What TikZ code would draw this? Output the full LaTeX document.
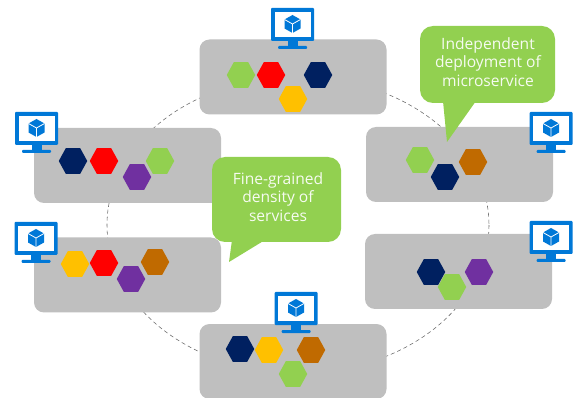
\documentclass[tikz,border=0pt]{standalone}
\usepackage{fontspec}
\setmainfont{Open Sans}
\usepackage{xcolor}
\usetikzlibrary{shapes.geometric}

\definecolor{boxgray}{HTML}{BFBFBF}
\definecolor{leafgreen}{HTML}{92D050}
\definecolor{navyhex}{HTML}{002060}
\definecolor{amberhex}{HTML}{FFC000}
\definecolor{brownhex}{HTML}{C06A00}
\definecolor{purplehex}{HTML}{7030A0}
\definecolor{azureblue}{HTML}{0078D7}

\tikzset{
	hostbox/.style={fill=boxgray, rounded corners=10pt, minimum width=187pt, minimum height=75pt, inner sep=0pt},
	hexa/.style={regular polygon, regular polygon sides=6, fill=#1, minimum size=28.5pt, inner sep=0pt, yscale=1.05},
	ring/.style={draw=black!60, line width=0.55pt, dash pattern=on 4pt off 3pt},
	balloon/.style={fill=leafgreen},
	balloontext/.style={text=white!92!leafgreen, font=\fontsize{15.6}{18.5}\selectfont, align=center, inner sep=0pt},
	monitor/.pic={
		\fill[azureblue, rounded corners=1pt] (-21.5,-22) rectangle (21.5,11);
		\fill[white] (-18,-18) rectangle (18,7);
		\fill[azureblue] (-5,11) rectangle (5,17);
		\fill[azureblue, rounded corners=1pt] (-14.5,16) rectangle (14.5,19);
		\fill[azureblue] (0,-15) -- (8,-10.5) -- (8,-1.5) -- (0,3) -- (-8,-1.5) -- (-8,-10.5) -- cycle;
		\draw[white, line width=0.8pt] (-8,-10.5) -- (0,-6) -- (8,-10.5) (0,-6) -- (0,3);
	}
}

\begin{document}
\begin{tikzpicture}[x=1pt, y=-1pt]
	\useasboundingbox (0,0) rectangle (576,398);

	% dashed ring behind the boxes
	\coordinate (c) at (298,225);
	\draw[ring] (c) ellipse (191 and 148);

	\node[hostbox] (top) at (293,77) {};
	\node[hostbox] (right1) at (459.5,164.5) {};
	\node[hostbox] (right2) at (458.5,271.5) {};
	\node[hostbox] (left1) at (127.5,165.5) {};
	\node[hostbox] (left2) at (127.5,275) {};
	\node[hostbox] (bottom) at (293,361.5) {};

	% top
	\node[hexa=leafgreen] (t1) at (241,75) {};
	\node[hexa=red] (t2) at (271,75) {};
	\node[hexa=navyhex] (t3) at (318,75) {};
	\node[hexa=amberhex] (t4) at (293,99) {};

	% right
	\node[hexa=leafgreen] (r1) at (420,160) {};
	\node[hexa=navyhex] (r2) at (445,177) {};
	\node[hexa=brownhex] (r3) at (473,162) {};

	\node[hexa=navyhex] (s1) at (431,272) {};
	\node[hexa=leafgreen] (s2) at (452,287) {};
	\node[hexa=purplehex] (s3) at (479,272) {};

	% left
	\node[hexa=navyhex] (l1) at (73,161) {};
	\node[hexa=red] (l2) at (104,161) {};
	\node[hexa=purplehex] (l3) at (137,177) {};
	\node[hexa=leafgreen] (l4) at (160,161) {};

	\node[hexa=amberhex] (m1) at (75,264) {};
	\node[hexa=red] (m2) at (104,263) {};
	\node[hexa=purplehex] (m3) at (131,279) {};
	\node[hexa=brownhex] (m4) at (155,262) {};

	% bottom
	\node[hexa=navyhex] (b1) at (240,349) {};
	\node[hexa=amberhex] (b2) at (269,350) {};
	\node[hexa=brownhex] (b3) at (311,350) {};
	\node[hexa=leafgreen] (b4) at (293,374) {};

	% monitors
	\pic at (292.5,30) {monitor};
	\pic at (36.5,134) {monitor};
	\pic at (36,244) {monitor};
	\pic at (551,134) {monitor};
	\pic at (551,243) {monitor};
	\pic at (296,314) {monitor};

	% callouts
	\fill[balloon, rounded corners=13pt] (212,157) rectangle (341,242);
	\fill[balloon] (232,240) -- (229,262) -- (265,240) -- cycle;
	\node[balloontext] (fine) at (278,197) {Fine-grained\\density of\\services};

	\fill[balloon, rounded corners=13pt] (420,26) rectangle (555,103);
	\fill[balloon] (443,101) -- (447,142) -- (476,101) -- cycle;
	\node[balloontext] (indep) at (488,62) {Independent\\deployment of\\microservice};
\end{tikzpicture}
\end{document}
